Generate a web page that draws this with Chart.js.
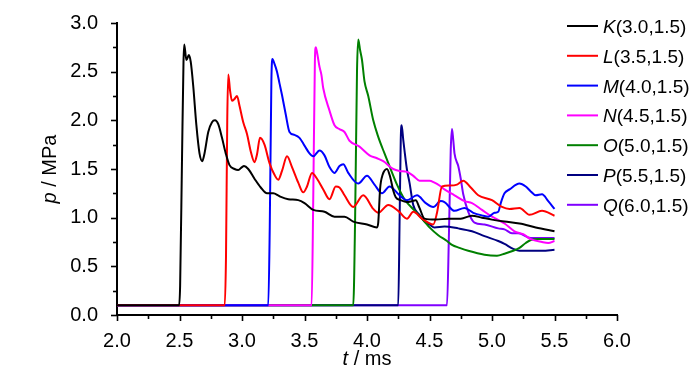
<!DOCTYPE html>
<html>
<head>
<meta charset="utf-8">
<script src="https://cdn.jsdelivr.net/npm/chart.js@4.4.1/dist/chart.umd.min.js"></script>
<style>
html,body{margin:0;padding:0;background:#fff;}
#wrap{width:700px;height:374px;position:relative;}
</style>
</head>
<body>
<div id="wrap"><canvas id="c" width="700" height="374"></canvas></div>
<script>
// ---- data (t in ms, p in MPa) ----
const kT = [2.0, 2.497, 2.505, 2.52, 2.532, 2.538, 2.555, 2.575, 2.59, 2.61, 2.635, 2.66, 2.682, 2.70, 2.73, 2.76, 2.784, 2.81, 2.84, 2.87, 2.90, 2.94, 2.97, 3.0, 3.016, 3.05, 3.10, 3.15, 3.20, 3.25, 3.30, 3.37, 3.45, 3.50, 3.57, 3.66, 3.74, 3.82, 3.89, 4.0, 4.08, 4.09, 4.105, 4.125, 4.16, 4.185, 4.21, 4.23, 4.27, 4.32, 4.36, 4.39, 4.42, 4.46, 4.55, 4.65, 4.75, 4.84, 4.92, 5.0, 5.1, 5.22, 5.35, 5.5];
const kP = [0.1, 0.1, 0.3, 1.6, 2.6, 2.78, 2.62, 2.67, 2.60, 2.35, 1.95, 1.66, 1.58, 1.66, 1.88, 1.98, 2.00, 1.96, 1.82, 1.66, 1.54, 1.50, 1.49, 1.52, 1.53, 1.50, 1.40, 1.31, 1.25, 1.25, 1.22, 1.19, 1.18, 1.15, 1.08, 1.06, 1.01, 1.01, 0.96, 0.93, 0.90, 0.95, 1.30, 1.44, 1.50, 1.42, 1.28, 1.21, 1.18, 1.16, 1.17, 1.18, 1.10, 0.99, 0.98, 0.99, 0.99, 1.02, 1.00, 0.98, 0.96, 0.94, 0.90, 0.86];

const lT = [2.0, 2.862, 2.872, 2.882, 2.89, 2.905, 2.92, 2.94, 2.96, 2.98, 3.01, 3.04, 3.07, 3.10, 3.12, 3.144, 3.18, 3.22, 3.26, 3.29, 3.32, 3.36, 3.40, 3.45, 3.49, 3.52, 3.56, 3.60, 3.65, 3.70, 3.75, 3.78, 3.82, 3.89, 3.97, 4.05, 4.09, 4.17, 4.25, 4.32, 4.37, 4.44, 4.49, 4.53, 4.56, 4.60, 4.66, 4.72, 4.77, 4.83, 4.89, 5.0, 5.08, 5.14, 5.22, 5.30, 5.40, 5.50];
const lP = [0.1, 0.1, 0.6, 2.0, 2.47, 2.30, 2.20, 2.22, 2.25, 2.15, 1.98, 1.86, 1.68, 1.57, 1.65, 1.82, 1.75, 1.56, 1.44, 1.39, 1.48, 1.63, 1.52, 1.36, 1.26, 1.32, 1.46, 1.40, 1.29, 1.19, 1.32, 1.31, 1.23, 1.11, 1.23, 1.09, 1.05, 1.13, 1.07, 0.99, 1.06, 0.99, 0.95, 0.93, 1.05, 1.32, 1.33, 1.34, 1.38, 1.31, 1.23, 1.18, 1.11, 1.09, 1.10, 1.03, 1.07, 1.02];

const mT = [2.0, 3.21, 3.222, 3.235, 3.243, 3.26, 3.28, 3.30, 3.32, 3.35, 3.38, 3.42, 3.46, 3.50, 3.54, 3.57, 3.62, 3.66, 3.70, 3.74, 3.78, 3.81, 3.85, 3.93, 4.0, 4.06, 4.12, 4.18, 4.26, 4.32, 4.40, 4.47, 4.53, 4.59, 4.62, 4.70, 4.78, 4.85, 4.93, 4.97, 5.02, 5.05, 5.07, 5.10, 5.14, 5.22, 5.27, 5.31, 5.35, 5.40, 5.45, 5.50];
const mP = [0.1, 0.1, 0.9, 2.4, 2.63, 2.58, 2.50, 2.38, 2.26, 2.06, 1.88, 1.85, 1.82, 1.74, 1.66, 1.63, 1.69, 1.64, 1.52, 1.46, 1.53, 1.55, 1.46, 1.35, 1.43, 1.34, 1.25, 1.32, 1.23, 1.18, 1.23, 1.15, 1.11, 1.17, 1.16, 1.07, 1.10, 1.05, 1.02, 1.01, 1.05, 1.06, 1.15, 1.25, 1.29, 1.35, 1.32, 1.27, 1.23, 1.24, 1.17, 1.09];

const nT = [2.0, 3.557, 3.57, 3.583, 3.59, 3.60, 3.62, 3.635, 3.65, 3.70, 3.74, 3.78, 3.82, 3.86, 3.94, 4.02, 4.08, 4.13, 4.21, 4.26, 4.32, 4.37, 4.42, 4.50, 4.54, 4.58, 4.62, 4.70, 4.78, 4.84, 4.92, 5.0, 5.10, 5.18, 5.25, 5.31, 5.40, 5.45, 5.50];
const nP = [0.1, 0.1, 1.2, 2.6, 2.75, 2.70, 2.55, 2.47, 2.33, 2.10, 1.95, 1.91, 1.88, 1.79, 1.73, 1.64, 1.61, 1.58, 1.50, 1.48, 1.47, 1.43, 1.38, 1.38, 1.36, 1.33, 1.29, 1.23, 1.17, 1.15, 1.08, 1.01, 0.94, 0.86, 0.83, 0.78, 0.75, 0.74, 0.76];

const oT = [2.0, 3.89, 3.905, 3.92, 3.93, 3.945, 3.96, 3.98, 4.01, 4.05, 4.09, 4.14, 4.18, 4.24, 4.30, 4.39, 4.46, 4.50, 4.57, 4.64, 4.68, 4.74, 4.81, 4.94, 5.04, 5.10, 5.17, 5.22, 5.27, 5.31, 5.37, 5.5];
const oP = [0.1, 0.1, 1.0, 2.5, 2.83, 2.72, 2.62, 2.40, 2.25, 2.00, 1.83, 1.66, 1.53, 1.34, 1.19, 1.06, 0.96, 0.90, 0.82, 0.76, 0.72, 0.69, 0.66, 0.62, 0.61, 0.63, 0.66, 0.69, 0.74, 0.77, 0.78, 0.78];

const pT = [2.0, 4.25, 4.26, 4.27, 4.277, 4.29, 4.30, 4.32, 4.34, 4.37, 4.42, 4.46, 4.50, 4.54, 4.62, 4.73, 4.84, 4.94, 5.05, 5.10, 5.17, 5.22, 5.30, 5.40, 5.5];
const pP = [0.1, 0.1, 0.9, 1.8, 1.95, 1.80, 1.69, 1.49, 1.36, 1.13, 1.03, 0.96, 0.93, 0.90, 0.91, 0.89, 0.86, 0.81, 0.76, 0.73, 0.68, 0.66, 0.66, 0.66, 0.67];

const qT = [2.0, 4.64, 4.655, 4.67, 4.68, 4.69, 4.70, 4.73, 4.75, 4.77, 4.81, 4.86, 4.94, 5.05, 5.10, 5.16, 5.21, 5.31, 5.40, 5.5];
const qP = [0.1, 0.1, 0.8, 1.7, 1.91, 1.80, 1.66, 1.53, 1.40, 1.24, 1.06, 0.95, 0.93, 0.89, 0.88, 0.84, 0.84, 0.79, 0.79, 0.79];

const letters = ["K", "L", "M", "N", "O", "P", "Q"];
const coords = ["(3.0,1.5)", "(3.5,1.5)", "(4.0,1.5)", "(4.5,1.5)", "(5.0,1.5)", "(5.5,1.5)", "(6.0,1.5)"];
const xTicks = [2.0, 2.5, 3.0, 3.5, 4.0, 4.5, 5.0, 5.5, 6.0];
const yTicks = [0.0, 0.5, 1.0, 1.5, 2.0, 2.5, 3.0];

const colors = ["#000000", "#ff0000", "#0000ff", "#ff00ff", "#008000", "#000080", "#8000ff"];
const series = [[kT,kP],[lT,lP],[mT,mP],[nT,nP],[oT,oP],[pT,pP],[qT,qP]];

const FONT = '"Liberation Sans", Arial, Helvetica, sans-serif';

const datasets = series.map((s, i) => ({
  label: letters[i] + coords[i],
  data: s[0].map((t, j) => ({x: t, y: s[1][j]})),
  borderColor: colors[i],
  backgroundColor: colors[i],
  borderWidth: 2,
  pointRadius: 0,
  fill: false,
  cubicInterpolationMode: 'monotone'
}));

const deco = {
  id: 'deco',
  afterDraw(chart) {
    const ctx = chart.ctx;
    const xs = chart.scales.x, ys = chart.scales.y;
    const ca = chart.chartArea;
    ctx.save();
    ctx.strokeStyle = '#000';
    ctx.lineWidth = 1.6;
    for (let v = 2; v <= 6.0001; v += 0.25) {
      const major = Math.abs(v * 2 - Math.round(v * 2)) < 1e-6;
      const px = Math.round(xs.getPixelForValue(v)) + 0.5;
      ctx.beginPath();
      ctx.moveTo(px, ca.bottom);
      ctx.lineTo(px, ca.bottom + (major ? 6 : 4));
      ctx.stroke();
    }
    for (let v = 0; v <= 3.0001; v += 0.25) {
      const major = Math.abs(v * 2 - Math.round(v * 2)) < 1e-6;
      const py = Math.round(ys.getPixelForValue(v)) + 0.5;
      ctx.beginPath();
      ctx.moveTo(ca.left, py);
      ctx.lineTo(ca.left - (major ? 6 : 4), py);
      ctx.stroke();
    }
    // axis titles
    ctx.fillStyle = '#000';
    ctx.textBaseline = 'alphabetic';
    ctx.font = 'italic 20px ' + FONT;
    const wt = ctx.measureText('t').width;
    ctx.font = '20px ' + FONT;
    const wr = ctx.measureText(' / ms').width;
    let x0 = (ca.left + ca.right) / 2 - (wt + wr) / 2;
    ctx.font = 'italic 20px ' + FONT;
    ctx.fillText('t', x0, 365);
    ctx.font = '20px ' + FONT;
    ctx.fillText(' / ms', x0 + wt, 365);

    ctx.save();
    ctx.translate(56, (ca.top + ca.bottom) / 2);
    ctx.rotate(-Math.PI / 2);
    ctx.font = 'italic 20px ' + FONT;
    const wp = ctx.measureText('p').width;
    ctx.font = '20px ' + FONT;
    const wr2 = ctx.measureText(' / MPa').width;
    const s0 = -(wp + wr2) / 2;
    ctx.font = 'italic 20px ' + FONT;
    ctx.fillText('p', s0, 0);
    ctx.font = '20px ' + FONT;
    ctx.fillText(' / MPa', s0 + wp, 0);
    ctx.restore();

    // legend
    for (let i = 0; i < letters.length; i++) {
      const y = 26 + i * 29.8;
      ctx.strokeStyle = colors[i];
      ctx.lineWidth = 2;
      ctx.beginPath();
      ctx.moveTo(567, y);
      ctx.lineTo(598, y);
      ctx.stroke();
      ctx.fillStyle = '#000';
      ctx.font = 'italic 19px ' + FONT;
      ctx.fillText(letters[i], 603, y + 7);
      const wl = ctx.measureText(letters[i]).width;
      ctx.font = '19px ' + FONT;
      ctx.fillText(coords[i], 603 + wl, y + 7);
    }
    ctx.restore();
  }
};

new Chart(document.getElementById('c'), {
  type: 'line',
  data: { datasets },
  options: {
    responsive: false,
    animation: false,
    layout: { padding: { top: 17, right: 83, left: 0, bottom: 0 } },
    plugins: { legend: { display: false }, tooltip: { enabled: false } },
    scales: {
      x: {
        type: 'linear', min: 2, max: 6,
        afterBuildTicks: (s) => { s.ticks = xTicks.map(v => ({ value: v })); },
        ticks: { callback: v => v.toFixed(1), font: { size: 20, family: FONT }, color: '#000', padding: 6, maxRotation: 0, autoSkip: false },
        grid: { display: false },
        border: { display: true, color: '#000', width: 2 },
        afterFit: (s) => { s.height = 59; }
      },
      y: {
        type: 'linear', min: 0, max: 3,
        afterBuildTicks: (s) => { s.ticks = yTicks.map(v => ({ value: v })); },
        ticks: { callback: v => v.toFixed(1), font: { size: 20, family: FONT }, color: '#000', padding: 11, autoSkip: false },
        grid: { display: false },
        border: { display: true, color: '#000', width: 2 },
        afterFit: (s) => { s.width = 117; }
      }
    }
  },
  plugins: [deco]
});
</script>
</body>
</html>
